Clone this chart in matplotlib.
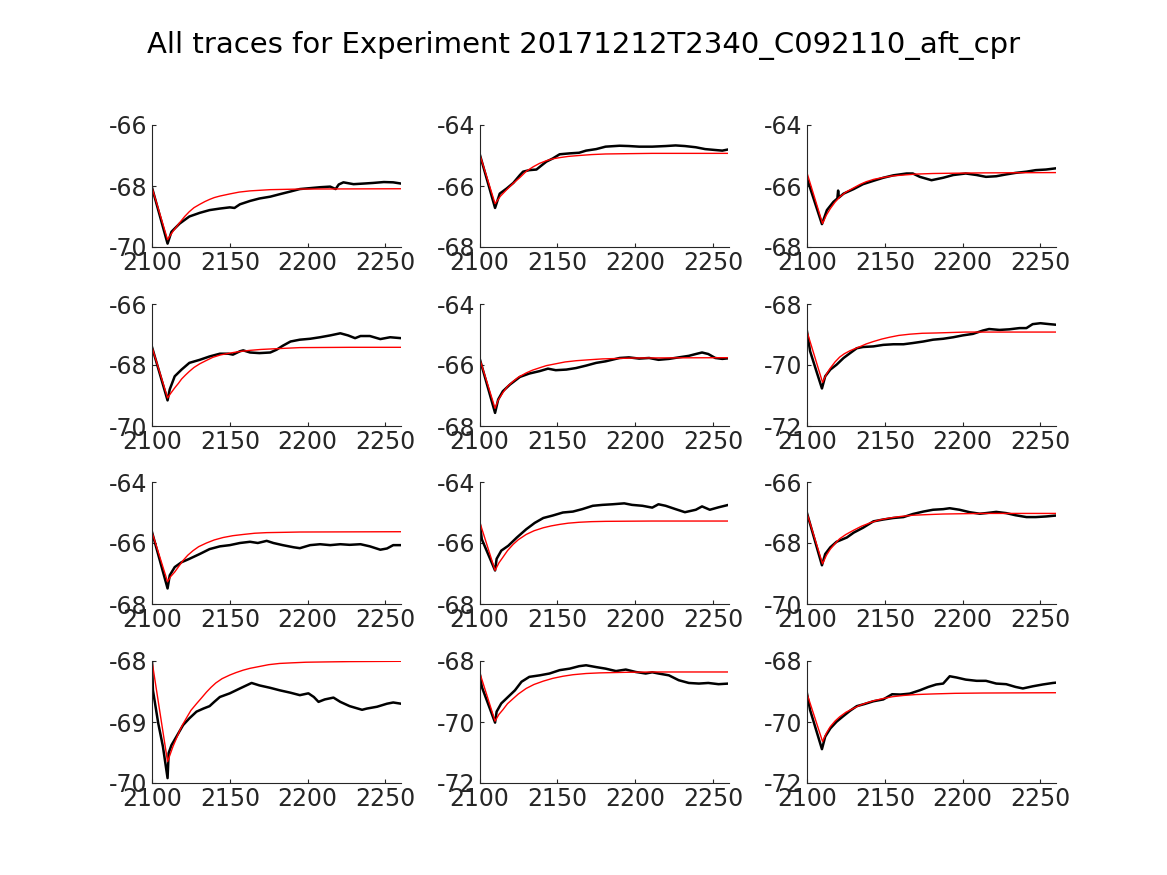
import numpy as np
import matplotlib
matplotlib.use('Agg')
import matplotlib.pyplot as plt

plt.rcParams['font.family'] = 'DejaVu Sans'
plt.rcParams['axes.unicode_minus'] = False

title = 'All traces for Experiment 20171212T2340_C092110_aft_cpr'

# panel 1 (row 1, col 1)
trace_x_1 = [2100, 2110, 2112.5, 2117.8, 2124, 2130.7, 2137, 2143.6, 2150, 2153, 2156.5, 2163, 2169, 2176, 2182, 2189, 2195,
             2201.6, 2208, 2214.5, 2218, 2220, 2223, 2229.5, 2236, 2242, 2249, 2255, 2260]
trace_y_1 = [-68.05, -69.89, -69.5, -69.23, -69.0, -68.88, -68.79, -68.74, -68.70, -68.72, -68.6, -68.49, -68.41, -68.35,
             -68.27, -68.18, -68.1, -68.07, -68.04, -68.02, -68.1, -67.95, -67.88, -67.94, -67.92, -67.90, -67.87, -67.88, -67.92]
fit_x_1 = [2100, 2110, 2112, 2114, 2116, 2117.8, 2121, 2124, 2127, 2130.7, 2134, 2137, 2140, 2143.6, 2150, 2156, 2163, 2176,
           2195, 2260]
fit_y_1 = [-68.05, -69.76, -69.6, -69.45, -69.32, -69.2, -69.0, -68.84, -68.71, -68.6, -68.51, -68.44, -68.38, -68.33,
           -68.26, -68.2, -68.16, -68.12, -68.1, -68.09]

# panel 2 (row 1, col 2)
trace_x_2 = [2100, 2110, 2113, 2117.5, 2121.7, 2126, 2128, 2132, 2136.6, 2140, 2143, 2147, 2151.5, 2158, 2164, 2168.5, 2175,
             2181, 2190, 2196, 2202.6, 2211, 2219.6, 2226, 2232, 2239, 2245, 2251.5, 2256, 2260]
trace_y_2 = [-64.93, -66.72, -66.25, -66.08, -65.9, -65.64, -65.53, -65.48, -65.46, -65.32, -65.2, -65.1, -64.96, -64.93,
             -64.91, -64.84, -64.79, -64.71, -64.68, -64.69, -64.71, -64.71, -64.69, -64.67, -64.69, -64.73, -64.79, -64.82,
             -64.84, -64.8]
fit_x_2 = [2100, 2110, 2113.5, 2117.5, 2121.5, 2126, 2130, 2134.5, 2138.5, 2143, 2147, 2151.5, 2157, 2164, 2172, 2181, 2195,
           2211, 2260]
fit_y_2 = [-64.93, -66.58, -66.33, -66.12, -65.92, -65.72, -65.52, -65.37, -65.26, -65.17, -65.11, -65.07, -65.03, -65.0,
           -64.97, -64.95, -64.94, -64.93, -64.93]

# panel 3 (row 1, col 3)
trace_x_3 = [2100, 2109.6, 2112.8, 2117, 2119.5, 2120, 2120.5, 2123.5, 2130, 2136, 2142.7, 2149, 2155.5, 2164, 2168, 2172.5,
             2180, 2187.5, 2194, 2202, 2209, 2215, 2221.6, 2228, 2234, 2241, 2247, 2253.6, 2260]
trace_y_3 = [-65.75, -67.25, -66.79, -66.52, -66.41, -66.15, -66.38, -66.25, -66.1, -65.94, -65.83, -65.73, -65.65, -65.59,
             -65.59, -65.7, -65.81, -65.73, -65.64, -65.59, -65.64, -65.7, -65.68, -65.62, -65.57, -65.53, -65.48, -65.46,
             -65.42]
fit_x_3 = [2100, 2110, 2112.5, 2115, 2118, 2121, 2125, 2130, 2134, 2138, 2143, 2149, 2155, 2162, 2170, 2181, 2195, 2213,
           2260]
fit_y_3 = [-65.57, -67.23, -66.95, -66.74, -66.53, -66.36, -66.2, -66.06, -65.95, -65.86, -65.78, -65.72, -65.67, -65.64,
           -65.61, -65.59, -65.58, -65.57, -65.56]

# panel 4 (row 2, col 1)
trace_x_4 = [2100, 2110, 2111.4, 2114.6, 2119, 2124, 2130.7, 2137, 2143.6, 2149, 2152, 2156.5, 2158.6, 2163, 2169, 2176,
             2180, 2184, 2189, 2195, 2201.6, 2208, 2214.5, 2221, 2226, 2230.5, 2234, 2240, 2246.7, 2253, 2260]
trace_y_4 = [-67.41, -69.16, -68.8, -68.37, -68.15, -67.93, -67.83, -67.72, -67.63, -67.63, -67.66, -67.55, -67.52, -67.59,
             -67.61, -67.59, -67.5, -67.37, -67.23, -67.17, -67.14, -67.09, -67.03, -66.96, -67.03, -67.12, -67.05, -67.05,
             -67.15, -67.09, -67.12]
fit_x_4 = [2100, 2110, 2112, 2114.6, 2117, 2119, 2121.5, 2124, 2127, 2130.7, 2135, 2139, 2144, 2150, 2156, 2163, 2170, 2178,
           2195, 2227, 2260]
fit_y_4 = [-67.41, -69.08, -68.93, -68.75, -68.6, -68.46, -68.33, -68.21, -68.08, -67.96, -67.85, -67.75, -67.67, -67.61,
           -67.56, -67.52, -67.49, -67.47, -67.43, -67.42, -67.42]

# panel 5 (row 2, col 2)
trace_x_5 = [2100, 2110, 2112, 2115, 2119.6, 2126, 2132, 2138.7, 2144, 2149, 2155.8, 2162, 2168.5, 2175, 2181, 2190, 2196,
             2202.6, 2209, 2215, 2221.7, 2228, 2234.5, 2239, 2243, 2247, 2251.5, 2256, 2260]
trace_y_5 = [-65.77, -67.57, -67.13, -66.86, -66.64, -66.39, -66.28, -66.2, -66.12, -66.17, -66.15, -66.1, -66.02, -65.93,
             -65.88, -65.77, -65.75, -65.79, -65.77, -65.83, -65.8, -65.75, -65.7, -65.64, -65.59, -65.64, -65.77, -65.8,
             -65.78]
fit_x_5 = [2100, 2110, 2112, 2115, 2118, 2121.7, 2125, 2130, 2134, 2138.7, 2143, 2149, 2155, 2162, 2170, 2179, 2200, 2260]
fit_y_5 = [-65.77, -67.42, -67.15, -66.91, -66.7, -66.53, -66.4, -66.26, -66.17, -66.09, -66.02, -65.96, -65.9, -65.86,
           -65.83, -65.8, -65.77, -65.76]

# panel 6 (row 2, col 3)
trace_x_6 = [2100, 2102, 2106.4, 2109.6, 2111.7, 2115, 2119, 2123.5, 2127.7, 2132, 2136, 2142.7, 2149, 2155.5, 2162, 2168,
             2174.7, 2181, 2187.5, 2194, 2200, 2206.6, 2213, 2217, 2223.7, 2230, 2236.5, 2241, 2245, 2250, 2255.7, 2260]
trace_y_6 = [-68.9, -69.55, -70.26, -70.77, -70.37, -70.15, -69.99, -69.77, -69.61, -69.45, -69.41, -69.39, -69.34, -69.32,
             -69.32, -69.28, -69.23, -69.17, -69.14, -69.09, -69.03, -68.98, -68.87, -68.82, -68.85, -68.83, -68.79, -68.79,
             -68.66, -68.63, -68.66, -68.68]
fit_x_6 = [2100, 2110, 2112.5, 2115, 2118, 2121, 2124, 2127.7, 2131, 2134, 2138, 2142.7, 2148, 2153, 2159, 2166, 2174, 2183,
           2202, 2260]
fit_y_6 = [-68.9, -70.57, -70.3, -70.1, -69.9, -69.74, -69.63, -69.53, -69.46, -69.4, -69.31, -69.23, -69.15, -69.09,
           -69.03, -68.99, -68.96, -68.95, -68.92, -68.92]

# panel 7 (row 3, col 1)
trace_x_7 = [2100, 2110, 2111.4, 2114.6, 2119, 2124, 2130.7, 2137, 2143.6, 2150, 2156.5, 2163, 2168, 2173.7, 2178, 2184,
             2191, 2195, 2201.6, 2208, 2214.5, 2221, 2227, 2234, 2240, 2246.7, 2251, 2255, 2260]
trace_y_7 = [-65.64, -67.49, -67.06, -66.79, -66.63, -66.52, -66.36, -66.2, -66.11, -66.07, -66.0, -65.96, -66.0, -65.93,
             -66.0, -66.07, -66.14, -66.17, -66.07, -66.04, -66.07, -66.04, -66.06, -66.04, -66.11, -66.22, -66.18, -66.07,
             -66.07]
fit_x_7 = [2100, 2110, 2112, 2114.6, 2117, 2120, 2123, 2126.4, 2130, 2135, 2140, 2145.7, 2152, 2158.6, 2166, 2173.7, 2185,
           2195, 2260]
fit_y_7 = [-65.64, -67.27, -67.1, -66.95, -66.78, -66.57, -66.4, -66.25, -66.12, -66.0, -65.9, -65.82, -65.76, -65.72,
           -65.68, -65.66, -65.65, -65.64, -65.63]

# panel 8 (row 3, col 2)
trace_x_8 = [2100, 2101.5, 2110, 2111, 2114, 2118.5, 2124, 2130, 2135.5, 2141, 2147, 2153.6, 2160, 2166, 2172.8, 2179,
             2185.5, 2193, 2198, 2204.7, 2211, 2215, 2219.6, 2226, 2232, 2239, 2243, 2248, 2253.6, 2260]
trace_y_8 = [-65.29, -65.88, -66.9, -66.52, -66.25, -66.09, -65.82, -65.55, -65.34, -65.18, -65.1, -65.0, -64.97, -64.89,
             -64.78, -64.75, -64.73, -64.7, -64.75, -64.78, -64.84, -64.73, -64.78, -64.89, -64.99, -64.91, -64.8, -64.91,
             -64.83, -64.75]
fit_x_8 = [2100, 2110, 2112.5, 2115, 2118, 2121.7, 2125, 2130, 2135, 2141, 2146, 2151.5, 2157, 2164, 2172, 2181, 2195, 2211,
           2260]
fit_y_8 = [-65.29, -66.9, -66.65, -66.47, -66.25, -66.04, -65.89, -65.72, -65.6, -65.5, -65.44, -65.39, -65.35, -65.32,
           -65.3, -65.29, -65.285, -65.28, -65.28]

# panel 9 (row 3, col 3)
trace_x_9 = [2100, 2109.6, 2111.7, 2115, 2119, 2125.6, 2130, 2136, 2142.7, 2149, 2155.5, 2162, 2168, 2174.7, 2181, 2187.5,
             2191.7, 2198, 2204.5, 2211, 2215, 2221.6, 2228, 2234, 2241, 2247, 2253.6, 2260]
trace_y_9 = [-67.02, -68.73, -68.36, -68.14, -67.96, -67.82, -67.66, -67.5, -67.29, -67.23, -67.18, -67.15, -67.05, -66.97,
             -66.91, -66.89, -66.86, -66.91, -66.99, -67.04, -67.02, -66.98, -67.02, -67.09, -67.15, -67.15, -67.13, -67.1]
fit_x_9 = [2100, 2110, 2112.5, 2115, 2118, 2121, 2125, 2130, 2135, 2140.5, 2146, 2153, 2160, 2168, 2177, 2187.5, 2213,
           2260]
fit_y_9 = [-67.02, -68.68, -68.4, -68.2, -68.02, -67.86, -67.72, -67.58, -67.45, -67.34, -67.25, -67.18, -67.13, -67.09,
           -67.07, -67.05, -67.03, -67.03]

# panel 10 (row 4, col 1)
trace_x_10 = [2100, 2100.6, 2104, 2107, 2110, 2110.7, 2112.5, 2115.7, 2120, 2124, 2128.6, 2133, 2137, 2140, 2143.6, 2150,
              2156.5, 2164, 2169, 2176, 2182, 2189, 2195, 2200.5, 2204, 2207, 2211, 2216.6, 2221, 2227, 2235, 2238, 2244.6,
              2251, 2255, 2260]
trace_y_10 = [-68.0, -68.48, -69.02, -69.4, -69.92, -69.51, -69.38, -69.24, -69.05, -68.94, -68.83, -68.78, -68.74, -68.67,
              -68.59, -68.53, -68.45, -68.36, -68.4, -68.44, -68.48, -68.52, -68.56, -68.53, -68.59, -68.67, -68.63, -68.6,
              -68.67, -68.74, -68.8, -68.78, -68.75, -68.7, -68.68, -68.7]
fit_x_10 = [2100, 2110, 2113.5, 2116, 2118, 2120, 2122, 2125, 2128.6, 2132, 2135, 2138, 2141, 2145, 2150, 2154, 2158.6, 2163,
            2169, 2175, 2182, 2190, 2199, 2212, 2227, 2260]
fit_y_10 = [-68.0, -69.65, -69.4, -69.25, -69.13, -69.03, -68.94, -68.81, -68.7, -68.6, -68.51, -68.43, -68.36, -68.29,
            -68.23, -68.19, -68.15, -68.12, -68.09, -68.06, -68.04, -68.03, -68.02, -68.015, -68.01, -68.005]

# panel 11 (row 4, col 2)
trace_x_11 = [2100, 2101.5, 2110, 2111, 2114, 2118.5, 2122.8, 2127, 2132, 2138.7, 2145, 2151.5, 2158, 2164, 2168.5, 2175,
              2181, 2187.7, 2194, 2200.4, 2206.8, 2211, 2215, 2221.7, 2228, 2234.5, 2241, 2247, 2253.6, 2260]
trace_y_11 = [-68.36, -68.85, -70.02, -69.66, -69.39, -69.17, -68.96, -68.68, -68.52, -68.47, -68.41, -68.3, -68.25,
              -68.17, -68.14, -68.2, -68.25, -68.33, -68.28, -68.36, -68.41, -68.37, -68.41, -68.47, -68.63, -68.72, -68.74,
              -68.72, -68.76, -68.74]
fit_x_11 = [2100, 2110, 2112.5, 2115, 2118, 2121.7, 2125, 2130, 2135, 2141, 2147, 2153.6, 2160, 2168.5, 2177, 2185.5, 2195,
            2211, 2260]
fit_y_11 = [-68.36, -69.97, -69.75, -69.6, -69.4, -69.23, -69.08, -68.9, -68.77, -68.66, -68.57, -68.5, -68.45, -68.41,
            -68.39, -68.38, -68.37, -68.36, -68.36]

# panel 12 (row 4, col 3)
trace_x_12 = [2100, 2102, 2109.6, 2111.7, 2115, 2119, 2123.5, 2127.7, 2132, 2137, 2142.7, 2149, 2154.7, 2160, 2166, 2172.5,
              2178, 2183, 2187.5, 2191.7, 2196, 2202, 2209, 2215, 2221.6, 2228, 2234, 2238.7, 2245, 2251.5, 2258, 2260]
trace_y_12 = [-69.07, -69.61, -70.89, -70.48, -70.21, -69.99, -69.8, -69.63, -69.48, -69.41, -69.32, -69.26, -69.09,
              -69.1, -69.07, -68.96, -68.85, -68.77, -68.74, -68.5, -68.54, -68.61, -68.65, -68.65, -68.74, -68.76, -68.85,
              -68.9, -68.83, -68.77, -68.72, -68.71]
fit_x_12 = [2100, 2110, 2112.5, 2115, 2118, 2121, 2125, 2130, 2134, 2138.4, 2143, 2149, 2155, 2162, 2170, 2181, 2195, 2213,
            2260]
fit_y_12 = [-69.07, -70.64, -70.36, -70.15, -69.97, -69.83, -69.68, -69.55, -69.45, -69.37, -69.3, -69.23, -69.17, -69.13,
            -69.1, -69.08, -69.06, -69.05, -69.04]

# y limits of each panel, row by row
y_limits = [(-70, -66), (-68, -64), (-68, -64),
            (-70, -66), (-68, -64), (-72, -68),
            (-68, -64), (-68, -64), (-70, -66),
            (-70, -68), (-72, -68), (-72, -68)]
x_ticks = [2100, 2150, 2200, 2250]

traces = [(trace_x_1, trace_y_1, fit_x_1, fit_y_1), (trace_x_2, trace_y_2, fit_x_2, fit_y_2),
          (trace_x_3, trace_y_3, fit_x_3, fit_y_3), (trace_x_4, trace_y_4, fit_x_4, fit_y_4),
          (trace_x_5, trace_y_5, fit_x_5, fit_y_5), (trace_x_6, trace_y_6, fit_x_6, fit_y_6),
          (trace_x_7, trace_y_7, fit_x_7, fit_y_7), (trace_x_8, trace_y_8, fit_x_8, fit_y_8),
          (trace_x_9, trace_y_9, fit_x_9, fit_y_9), (trace_x_10, trace_y_10, fit_x_10, fit_y_10),
          (trace_x_11, trace_y_11, fit_x_11, fit_y_11), (trace_x_12, trace_y_12, fit_x_12, fit_y_12)]

W, H = 1167, 875
fig = plt.figure(figsize=(W / 100, H / 100), dpi=100)

col_left = [152, 479.5, 807]
col_width = 249
row_top = [125, 304, 482, 661]
row_height = 122
dark = '#262626'

for k, (tx, ty, fx, fy) in enumerate(traces):
    r, c = divmod(k, 3)
    ax = fig.add_axes([col_left[c] / W, 1 - (row_top[r] + row_height) / H, col_width / W, row_height / H])
    ax.plot(tx, ty, color='black', lw=1.8)
    ax.plot(fx, fy, color='red', lw=1.0)
    lo, hi = y_limits[k]
    ax.set_xlim(2100, 2260)
    ax.set_ylim(lo, hi)
    ax.set_xticks(x_ticks)
    ax.set_yticks([lo, (lo + hi) / 2, hi])
    ax.set_yticklabels(['%d' % v for v in [lo, (lo + hi) / 2, hi]])
    ax.spines['top'].set_visible(False)
    ax.spines['right'].set_visible(False)
    for s in ['left', 'bottom']:
        ax.spines[s].set_color(dark)
        ax.spines[s].set_linewidth(0.8)
    ax.tick_params(direction='in', length=3, width=0.8, colors=dark, labelsize=17, pad=3)

fig.text(0.5, 1 - 45 / H, title, ha='center', va='center', fontsize=21, color='black')

fig.savefig('out.png', dpi=100)
